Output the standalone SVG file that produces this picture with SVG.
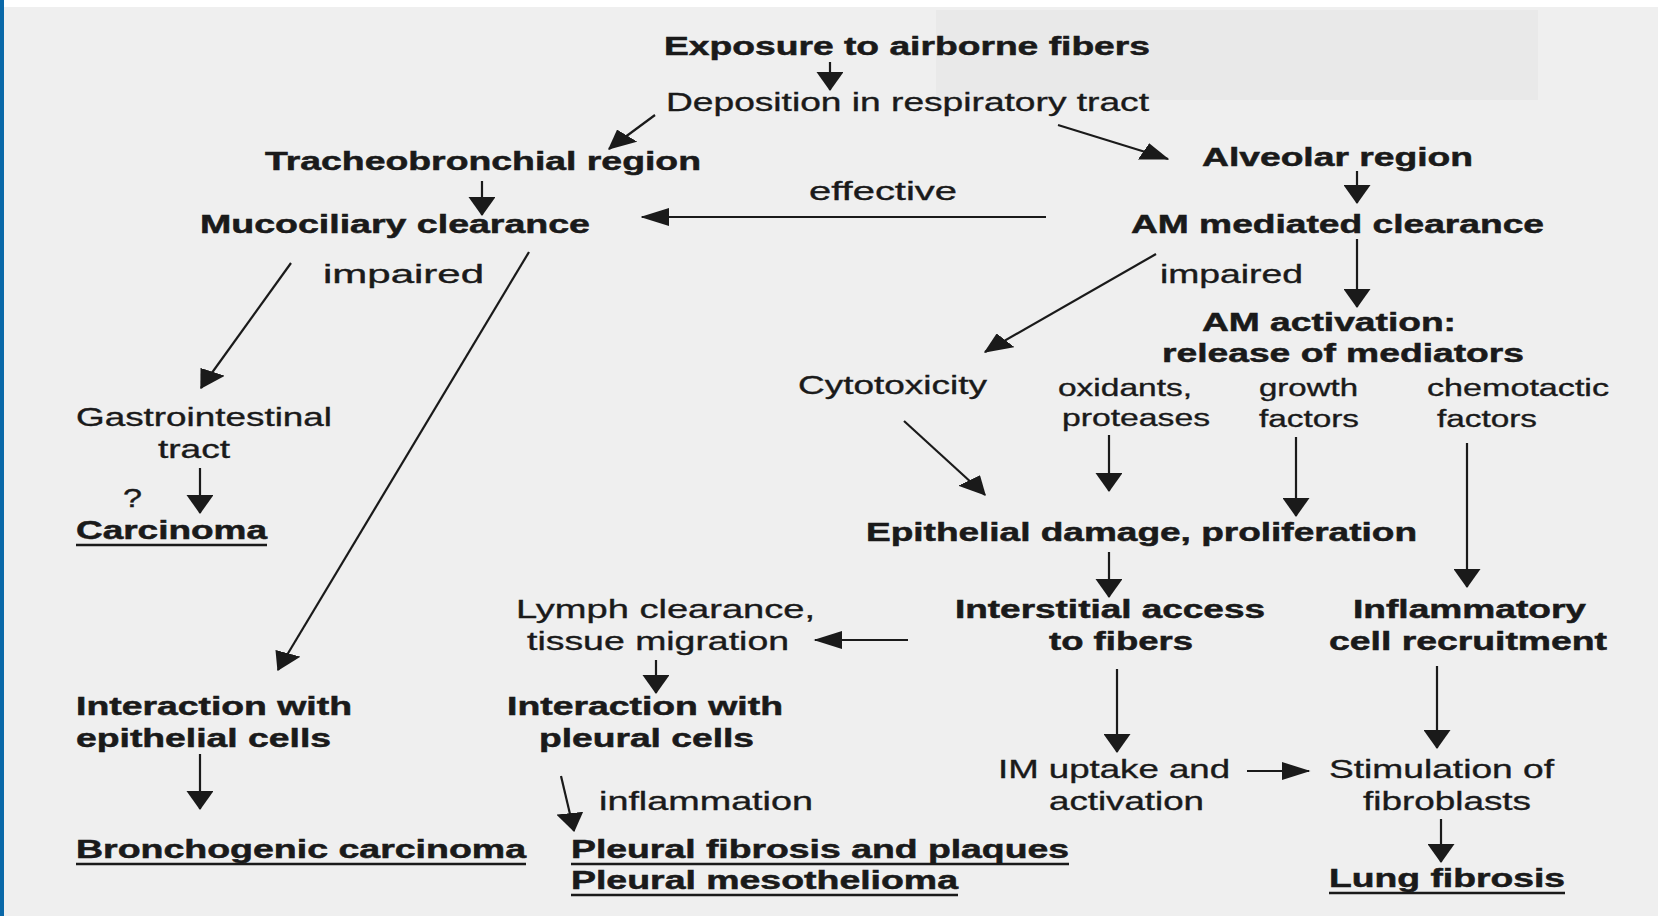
<svg xmlns="http://www.w3.org/2000/svg" width="1658" height="916" viewBox="0 0 1658 916">
<defs>
<style>
.b{font-family:"Liberation Sans",Arial,sans-serif;font-weight:bold;font-size:25px;fill:#1a1a1a;stroke:#1a1a1a;stroke-width:0.5}
.r{font-family:"Liberation Sans",Arial,sans-serif;font-weight:normal;font-size:25px;fill:#1a1a1a;stroke:#1a1a1a;stroke-width:0.35}
.s{font-size:23px}
.ul{stroke:#1a1a1a;stroke-width:2.5}
#connectors line{stroke:#1a1a1a;stroke-width:2.2;fill:none;marker-end:url(#ah);vector-effect:non-scaling-stroke}
</style>
<marker id="ah" viewBox="0 0 19 18" refX="18" refY="9" markerWidth="19" markerHeight="18" markerUnits="userSpaceOnUse" orient="auto">
<path d="M0,0 L19,9 L0,18 z" fill="#1a1a1a"/>
</marker>
</defs>
<rect x="0" y="0" width="1658" height="916" fill="#efefef"/>
<rect x="0" y="0" width="1658" height="7" fill="#ffffff"/>
<rect x="936" y="10" width="602" height="90" fill="#e9e9e9"/>
<rect x="0" y="0" width="4" height="916" fill="#0a68a8"/>

<g id="exposure"><text class="b" x="664" y="55" textLength="486" lengthAdjust="spacingAndGlyphs">Exposure to airborne fibers</text></g>
<g id="deposition"><text class="r" x="666" y="111" textLength="483" lengthAdjust="spacingAndGlyphs">Deposition in respiratory tract</text></g>
<g id="tracheobronchial"><text class="b" x="265" y="170" textLength="436" lengthAdjust="spacingAndGlyphs">Tracheobronchial region</text></g>
<g id="alveolar"><text class="b" x="1202" y="166" textLength="271" lengthAdjust="spacingAndGlyphs">Alveolar region</text></g>
<g id="mucociliary"><text class="b" x="200" y="233" textLength="390" lengthAdjust="spacingAndGlyphs">Mucociliary clearance</text></g>
<g id="am-clearance"><text class="b" x="1131" y="233" textLength="413" lengthAdjust="spacingAndGlyphs">AM mediated clearance</text></g>
<g id="am-activation">
<text class="b" x="1202" y="331" textLength="254" lengthAdjust="spacingAndGlyphs">AM activation:</text>
<text class="b" x="1162" y="362" textLength="362" lengthAdjust="spacingAndGlyphs">release of mediators</text>
</g>
<g id="cytotoxicity"><text class="r" x="798" y="394" textLength="189" lengthAdjust="spacingAndGlyphs">Cytotoxicity</text></g>
<g id="oxidants">
<text class="r s" x="1058" y="396" textLength="134" lengthAdjust="spacingAndGlyphs">oxidants,</text>
<text class="r s" x="1062" y="426" textLength="148" lengthAdjust="spacingAndGlyphs">proteases</text>
</g>
<g id="growth">
<text class="r s" x="1259" y="396" textLength="99" lengthAdjust="spacingAndGlyphs">growth</text>
<text class="r s" x="1259" y="427" textLength="100" lengthAdjust="spacingAndGlyphs">factors</text>
</g>
<g id="chemotactic">
<text class="r s" x="1427" y="396" textLength="182" lengthAdjust="spacingAndGlyphs">chemotactic</text>
<text class="r s" x="1437" y="427" textLength="100" lengthAdjust="spacingAndGlyphs">factors</text>
</g>
<g id="gi-tract">
<text class="r" x="76" y="426" textLength="256" lengthAdjust="spacingAndGlyphs">Gastrointestinal</text>
<text class="r" x="158" y="458" textLength="72" lengthAdjust="spacingAndGlyphs">tract</text>
</g>
<g id="carcinoma">
<text class="r" x="123" y="507" textLength="19" lengthAdjust="spacingAndGlyphs">?</text>
<text class="b" x="76" y="539" textLength="191" lengthAdjust="spacingAndGlyphs">Carcinoma</text>
<line class="ul" x1="76" y1="545" x2="267" y2="545"/>
</g>
<g id="epithelial-damage"><text class="b" x="866" y="541" textLength="551" lengthAdjust="spacingAndGlyphs">Epithelial damage, proliferation</text></g>
<g id="lymph">
<text class="r" x="516" y="618" textLength="299" lengthAdjust="spacingAndGlyphs">Lymph clearance,</text>
<text class="r" x="527" y="650" textLength="262" lengthAdjust="spacingAndGlyphs">tissue migration</text>
</g>
<g id="interstitial">
<text class="b" x="955" y="618" textLength="310" lengthAdjust="spacingAndGlyphs">Interstitial access</text>
<text class="b" x="1049" y="650" textLength="144" lengthAdjust="spacingAndGlyphs">to fibers</text>
</g>
<g id="inflammatory">
<text class="b" x="1353" y="618" textLength="233" lengthAdjust="spacingAndGlyphs">Inflammatory</text>
<text class="b" x="1329" y="650" textLength="278" lengthAdjust="spacingAndGlyphs">cell recruitment</text>
</g>
<g id="interaction-epithelial">
<text class="b" x="76" y="715" textLength="276" lengthAdjust="spacingAndGlyphs">Interaction with</text>
<text class="b" x="76" y="747" textLength="255" lengthAdjust="spacingAndGlyphs">epithelial cells</text>
</g>
<g id="interaction-pleural">
<text class="b" x="507" y="715" textLength="276" lengthAdjust="spacingAndGlyphs">Interaction with</text>
<text class="b" x="539" y="747" textLength="215" lengthAdjust="spacingAndGlyphs">pleural cells</text>
</g>
<g id="im-uptake">
<text class="r" x="998" y="778" textLength="232" lengthAdjust="spacingAndGlyphs">IM uptake and</text>
<text class="r" x="1049" y="810" textLength="155" lengthAdjust="spacingAndGlyphs">activation</text>
</g>
<g id="stimulation">
<text class="r" x="1329" y="778" textLength="225" lengthAdjust="spacingAndGlyphs">Stimulation of</text>
<text class="r" x="1363" y="810" textLength="168" lengthAdjust="spacingAndGlyphs">fibroblasts</text>
</g>
<g id="bronchogenic">
<text class="b" x="76" y="858" textLength="450" lengthAdjust="spacingAndGlyphs">Bronchogenic carcinoma</text>
<line class="ul" x1="76" y1="864" x2="526" y2="864"/>
</g>
<g id="pleural-outcomes">
<text class="b" x="571" y="858" textLength="498" lengthAdjust="spacingAndGlyphs">Pleural fibrosis and plaques</text>
<line class="ul" x1="571" y1="864" x2="1069" y2="864"/>
<text class="b" x="571" y="889" textLength="387" lengthAdjust="spacingAndGlyphs">Pleural mesothelioma</text>
<line class="ul" x1="571" y1="895" x2="958" y2="895"/>
</g>
<g id="lung-fibrosis">
<text class="b" x="1329" y="887" textLength="236" lengthAdjust="spacingAndGlyphs">Lung fibrosis</text>
<line class="ul" x1="1329" y1="893" x2="1565" y2="893"/>
</g>

<g id="connectors">
<g transform="scale(1.5 1)">
<line x1="553.33" y1="62" x2="553.33" y2="90"/>
<line x1="436.67" y1="115" x2="406" y2="149"/>
<line x1="705.33" y1="125" x2="778.67" y2="159"/>
<line x1="321.33" y1="181" x2="321.33" y2="215"/>
<line x1="904.67" y1="171" x2="904.67" y2="203"/>
<line x1="697.33" y1="217" x2="428" y2="217"/>
<line x1="904.67" y1="239" x2="904.67" y2="307"/>
<line x1="770.67" y1="254" x2="656.67" y2="352"/>
<line x1="194" y1="263" x2="134" y2="388"/>
<line x1="352.67" y1="252" x2="185.33" y2="670"/>
<line x1="602.67" y1="421" x2="656.67" y2="495"/>
<line x1="739.33" y1="435" x2="739.33" y2="491"/>
<line x1="864" y1="437" x2="864" y2="516"/>
<line x1="978" y1="443" x2="978" y2="587"/>
<line x1="739.33" y1="552" x2="739.33" y2="597"/>
<line x1="605.33" y1="640" x2="543.33" y2="640"/>
<line x1="744.67" y1="669" x2="744.67" y2="752"/>
<line x1="958" y1="666" x2="958" y2="748"/>
<line x1="831.33" y1="771" x2="872.67" y2="771"/>
<line x1="960.67" y1="819" x2="960.67" y2="862"/>
<line x1="133.33" y1="468" x2="133.33" y2="513"/>
<line x1="437.33" y1="660" x2="437.33" y2="693"/>
<line x1="133.33" y1="754" x2="133.33" y2="809"/>
<line x1="374" y1="776" x2="382.67" y2="831"/>
</g>
<text class="r" x="809" y="200" textLength="148" lengthAdjust="spacingAndGlyphs">effective</text>
<text class="r" x="323" y="283" font-size="26" textLength="161" lengthAdjust="spacingAndGlyphs">impaired</text>
<text class="r" x="1160" y="283" font-size="26" textLength="143" lengthAdjust="spacingAndGlyphs">impaired</text>
<text class="r" x="599" y="810" textLength="214" lengthAdjust="spacingAndGlyphs">inflammation</text>
</g>
</svg>
